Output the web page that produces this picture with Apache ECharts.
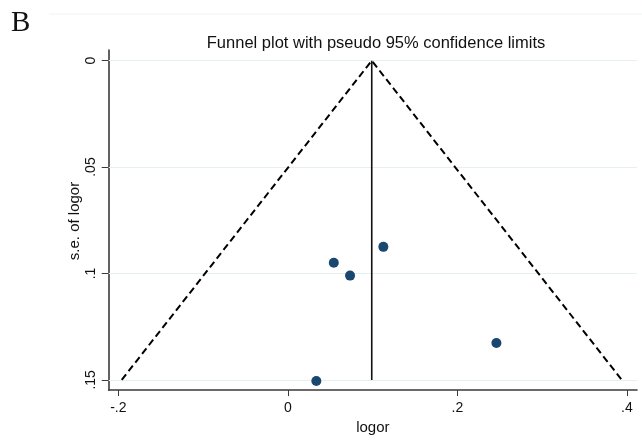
<!DOCTYPE html>
<html>
<head>
<meta charset="utf-8">
<script src="https://cdn.jsdelivr.net/npm/echarts@6/dist/echarts.min.js"></script>
<style>
  html, body { margin: 0; padding: 0; background: #fff; }
  #chart { width: 642px; height: 440px; }
</style>
</head>
<body>
<div id="chart"></div>
<script>
// Study estimates: log odds ratio and its standard error
const logor = [0.1127, 0.0542, 0.0734, 0.2461, 0.0336];
const seLogor = [0.0875, 0.0950, 0.1010, 0.1327, 0.1505];

// Pooled estimate and pseudo 95% limits at the largest s.e.
const pooled = 0.099;
const limitLeft = -0.196;
const limitRight = 0.394;
const seMax = 0.15;

// Tick values and their printed labels
const xTicks = [-0.2, 0, 0.2, 0.4];
const xTickLabels = ['-.2', '0', '.2', '.4'];
const yTicks = [0, 0.05, 0.1, 0.15];
const yTickLabels = ['0', '.05', '.1', '.15'];

const font = 'Liberation Sans, Arial, sans-serif';
const axisColor = '#3a3a3a';

function labelFor(ticks, labels) {
  return v => {
    const i = ticks.findIndex(t => Math.abs(t - v) < 1e-9);
    return i >= 0 ? labels[i] : '';
  };
}

const chart = echarts.init(document.getElementById('chart'), null, { renderer: 'canvas' });

chart.setOption({
  animation: false,
  backgroundColor: '#ffffff',
  title: {
    text: 'Funnel plot with pseudo 95% confidence limits',
    left: 371, top: 30, textAlign: 'center',
    textStyle: { fontFamily: font, fontSize: 16.5, fontWeight: 'normal', color: '#111' }
  },
  graphic: [
    {
      type: 'text', left: 11, top: 9,
      style: { text: 'B', fontFamily: 'Liberation Serif, Times New Roman, serif', fontSize: 29, fill: '#111' }
    },
    {
      type: 'line', silent: true,
      shape: { x1: 49, y1: 14, x2: 642, y2: 14 },
      style: { stroke: '#eef3f4', lineWidth: 1 }
    },
    {
      // y axis title, reading bottom to top
      type: 'text', x: 75, y: 221, rotation: Math.PI / 2,
      style: {
        text: 's.e. of logor', fontFamily: font, fontSize: 15, fill: '#111',
        align: 'center', verticalAlign: 'middle'
      }
    }
  ],
  grid: { left: 108.7, top: 50, right: 5, bottom: 47.3, containLabel: false },
  xAxis: {
    type: 'value', min: -0.2114, max: 0.412,
    name: 'logor', nameLocation: 'middle', nameGap: 27,
    nameTextStyle: { fontFamily: font, fontSize: 15, color: '#111' },
    axisLine: { show: true, onZero: false, lineStyle: { color: axisColor, width: 1.6 } },
    axisTick: { show: true, length: 6, customValues: xTicks, lineStyle: { color: axisColor, width: 1 } },
    axisLabel: {
      customValues: xTicks, margin: 11,
      formatter: labelFor(xTicks, xTickLabels),
      fontFamily: font, fontSize: 14, color: '#111'
    },
    splitLine: { show: false }
  },
  yAxis: {
    type: 'value', inverse: true, min: -0.005, max: 0.1548,
    axisLine: { show: true, onZero: false, lineStyle: { color: axisColor, width: 1.6 } },
    axisTick: { show: true, length: 7, customValues: yTicks, lineStyle: { color: axisColor, width: 1 } },
    axisLabel: {
      customValues: yTicks, margin: 11, rotate: 90,
      formatter: labelFor(yTicks, yTickLabels),
      fontFamily: font, fontSize: 14, color: '#111'
    },
    splitLine: { show: false }
  },
  series: [
    {
      // light horizontal reference lines at each y tick
      type: 'line', data: [], silent: true, z: 1,
      markLine: {
        silent: true, z: 1, symbol: ['none', 'none'], label: { show: false },
        lineStyle: { color: '#e6eff2', width: 1.2, type: 'solid' },
        data: yTicks.map(v => ({ yAxis: v }))
      }
    },
    {
      // pseudo 95% confidence limits
      type: 'line', silent: true, symbol: 'none', z: 3,
      data: [[limitLeft, seMax], [pooled, 0], [limitRight, seMax]],
      lineStyle: { color: '#000', width: 2, type: [7, 4] }
    },
    {
      // pooled estimate
      type: 'line', silent: true, symbol: 'none', z: 3,
      data: [[pooled, 0], [pooled, seMax]],
      lineStyle: { color: '#111', width: 1.6 }
    },
    {
      type: 'scatter', symbol: 'circle', symbolSize: 10, z: 10,
      itemStyle: { color: '#1a476f', opacity: 1, borderWidth: 0 },
      data: logor.map((x, i) => [x, seLogor[i]])
    }
  ]
});
</script>
</body>
</html>
